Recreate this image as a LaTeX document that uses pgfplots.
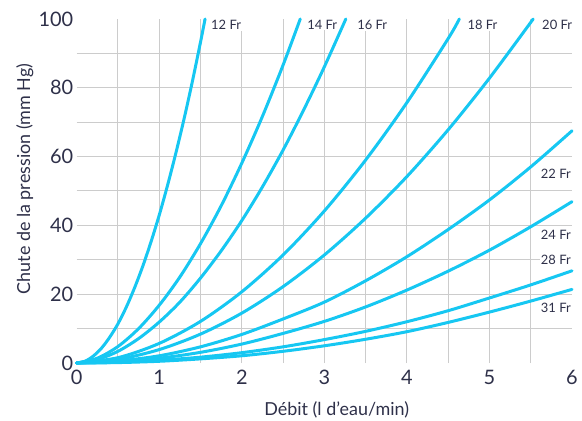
\documentclass[border=0pt]{standalone}
\usepackage{pgfplots}
\pgfplotsset{compat=1.18}
\usepackage{fontspec}
\setmainfont{Lato}
\definecolor{txt}{HTML}{2E3049}
\definecolor{cyanline}{HTML}{16C7F2}
\definecolor{gridc}{HTML}{CCCCCC}
\pgfplotsset{cy/.style={draw=cyanline, solid, line width=3bp, smooth, tension=0.5, mark=none, line cap=round, line join=round}}
\begin{document}
\begin{tikzpicture}
\begin{axis}[
 scale only axis, width=495.3bp, height=344bp,
 xmin=0, xmax=6, ymin=0, ymax=100,
 axis line style={draw=none},
 major tick length=0pt, minor tick length=0pt,
 xtick={0,...,6}, ytick={0,20,...,100},
 minor xtick={0.5,1,...,5.5}, minor ytick={10,20,...,90},
 xminorgrids=true, yminorgrids=true,
 minor grid style={draw=gridc, line width=1bp},
 clip=false,
 /pgf/number format/assume math mode=true,
 ticklabel style={font=\fontsize{20}{24}\selectfont, text=txt},
 xticklabel style={yshift=-4bp},
 xlabel={Débit (l d'eau/min)},
 ylabel={Chute de la pression (mm Hg)},
 label style={font=\fontsize{18}{22}\selectfont, text=txt},
 xlabel style={at={(axis description cs:0.525,-0.1366)}, anchor=center},
 ylabel style={at={(axis description cs:-0.105,0.535)}, anchor=center},
]
\coordinate (O) at (axis cs:0,0);
% 12 Fr
\addplot[cy] coordinates {(0,0) (0.1,0.5) (0.2,2.0) (0.3,4.3) (0.4,7.5) (0.5,11.4) (0.6,16.2) (0.7,21.8) (0.8,28.1) (0.9,35.2) (1.0,43.0) (1.1,51.6) (1.2,60.9) (1.3,70.9) (1.4,81.7) (1.5,93.3) (1.555,100)};
% 14 Fr
\addplot[cy] coordinates {(0,0) (0.25,1.4) (0.5,4.8) (0.75,10.0) (1.0,16.8) (1.25,25.0) (1.5,34.7) (1.75,45.7) (2.0,58.1) (2.25,71.7) (2.5,86.6) (2.708,100)};
% 16 Fr
\addplot[cy] coordinates {(0,0) (0.25,1.0) (0.5,3.4) (0.75,7.1) (1.0,11.9) (1.25,17.7) (1.5,24.7) (1.75,32.6) (2.0,41.4) (2.25,51.2) (2.5,61.9) (2.75,73.6) (3.0,86.1) (3.26,100)};
% 18 Fr
\addplot[cy] coordinates {(0,0) (0.5,1.55) (1.0,5.7) (1.5,12.1) (2.0,20.7) (2.5,31.4) (3.0,44.2) (3.5,59.0) (4.0,75.7) (4.5,94.3) (4.635,100)};
% 20 Fr
\addplot[cy] coordinates {(0,0) (0.5,1.05) (1.0,3.9) (1.5,8.4) (2.0,14.5) (2.5,22.2) (3.0,31.4) (3.5,42.1) (4.0,54.2) (4.5,67.8) (5.0,82.8) (5.53,100)};
% 22 Fr
\addplot[cy] coordinates {(0,0) (0.5,0.6) (1,2.1) (1.5,4.7) (2,8.3) (2.5,12.8) (3,17.7) (3.5,23.9) (4,30.9) (4.5,38.8) (5,47.4) (5.5,57) (6,67.5)};
% 24 Fr
\addplot[cy] coordinates {(0,0) (0.5,0.4) (1,1.4) (1.5,3.1) (2,5.5) (2.5,8.6) (3,12.1) (3.5,16.3) (4,21.2) (4.5,26.7) (5,32.8) (5.5,39.6) (6,46.9)};
% 28 Fr
\addplot[cy] coordinates {(0,0) (0.5,0.2) (1,0.8) (1.5,1.7) (2,3.0) (2.5,4.7) (3,6.8) (3.5,9.2) (4,12.0) (4.5,15.2) (5,18.9) (5.5,22.7) (6,26.8)};
% 31 Fr
\addplot[cy] coordinates {(0,0) (0.5,0.12) (1,0.5) (1.5,1.2) (2,2.1) (2.5,3.4) (3,5.0) (3.5,6.9) (4,9.1) (4.5,11.8) (5,14.8) (5.5,18.0) (6,21.4)};
\tikzset{lab/.style={font=\fontsize{13}{15}\selectfont, text=txt, fill=white, inner sep=1bp}}
\node[lab, anchor=west] at (axis cs:1.615,98.3) {12 Fr};
\node[lab, anchor=west] at (axis cs:2.78,98.3) {14 Fr};
\node[lab, anchor=west] at (axis cs:3.385,98.3) {16 Fr};
\node[lab, anchor=west] at (axis cs:4.72,98.3) {18 Fr};
\node[lab, anchor=west] at (axis cs:5.625,98.3) {20 Fr};
\node[lab, anchor=east] at (axis cs:6,55) {22 Fr};
\node[lab, anchor=east] at (axis cs:6,37.2) {24 Fr};
\node[lab, anchor=east] at (axis cs:6,30) {28 Fr};
\node[lab, anchor=east] at (axis cs:6,16) {31 Fr};
\end{axis}
\pgfresetboundingbox
\path[use as bounding box] ([shift={(-76.7bp,-58bp)}]O) rectangle ([shift={(505.3bp,363bp)}]O);
\end{tikzpicture}
\end{document}
